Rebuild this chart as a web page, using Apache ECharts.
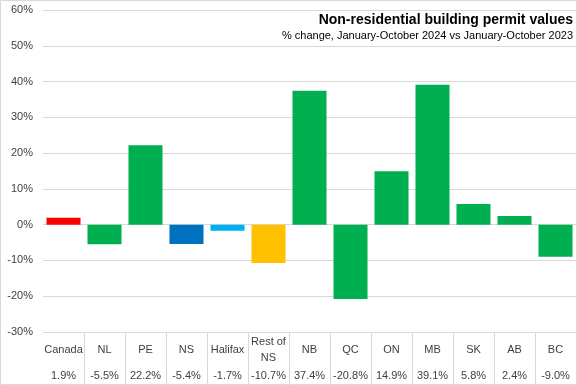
<!DOCTYPE html>
<html><head><meta charset="utf-8">
<script src="https://cdn.jsdelivr.net/npm/echarts@6/dist/echarts.min.js"></script>
<style>html,body{margin:0;padding:0;background:#fff}#c{width:577px;height:385px}</style>
</head><body><div id="c"></div>
<script>
const categories = ['Canada','NL','PE','NS','Halifax','Rest of\nNS','NB','QC','ON','MB','SK','AB','BC'];
const values = [1.9,-5.5,22.2,-5.4,-1.7,-10.7,37.4,-20.8,14.9,39.1,5.8,2.4,-9.0];
const barColors = ['#FF0000','#00B050','#00B050','#0070C0','#00B0F0','#FFC000','#00B050','#00B050','#00B050','#00B050','#00B050','#00B050','#00B050'];
const yTicks = {min:-30, max:60, interval:10};
const titleText = 'Non-residential building permit values';
const subtitleText = '% change, January-October 2024 vs January-October 2023';

const valueLabels = values.map(v => v.toFixed(1) + '%');
const txt = '#404040';
const font = 'Liberation Sans, Arial, sans-serif';
const chart = echarts.init(document.getElementById('c'), null, {renderer:'canvas'});
chart.setOption({
  animation:false,
  backgroundColor:'#fff',
  title:[{
    text:titleText, right:4, top:13, padding:0,
    textStyle:{fontFamily:font, fontWeight:'bold', fontSize:14, color:'#000'}
  },{
    text:subtitleText, right:4, top:30, padding:0,
    textStyle:{fontFamily:font, fontWeight:'normal', fontSize:11, color:'#000'}
  }],
  grid:{left:43, right:1, top:10, bottom:53, containLabel:false},
  xAxis:[{
    type:'category', data:categories, position:'bottom',
    axisLine:{show:false, onZero:false},
    axisTick:{show:true, length:52, alignWithLabel:false, interval:(i)=> i!==0, lineStyle:{color:'#d9d9d9'}},
    axisLabel:{interval:0, margin:18, verticalAlign:'middle', color:txt, fontFamily:font, fontSize:11, lineHeight:16}
  },{
    type:'category', data:valueLabels, position:'bottom', gridIndex:0,
    axisLine:{show:false}, axisTick:{show:false},
    axisLabel:{interval:0, margin:44, verticalAlign:'middle', color:txt, fontFamily:font, fontSize:11}
  }],
  yAxis:{
    type:'value', min:yTicks.min, max:yTicks.max, interval:yTicks.interval,
    axisLine:{show:false}, axisTick:{show:false},
    axisLabel:{formatter:'{value}%', margin:10, color:txt, fontFamily:font, fontSize:11},
    splitLine:{lineStyle:{color:'#d9d9d9', width:1}}
  },
  series:[{
    type:'bar', xAxisIndex:0,
    data:values.map((v,i)=>({value:v, itemStyle:{color:barColors[i]}})),
    barCategoryGap:'17%'
  }],
  graphic:[{
    type:'rect', silent:true, z:100,
    shape:{x:0.5, y:0.5, width:576, height:384},
    style:{fill:'none', stroke:'#d9d9d9', lineWidth:1}
  }]
});
</script></body></html>
